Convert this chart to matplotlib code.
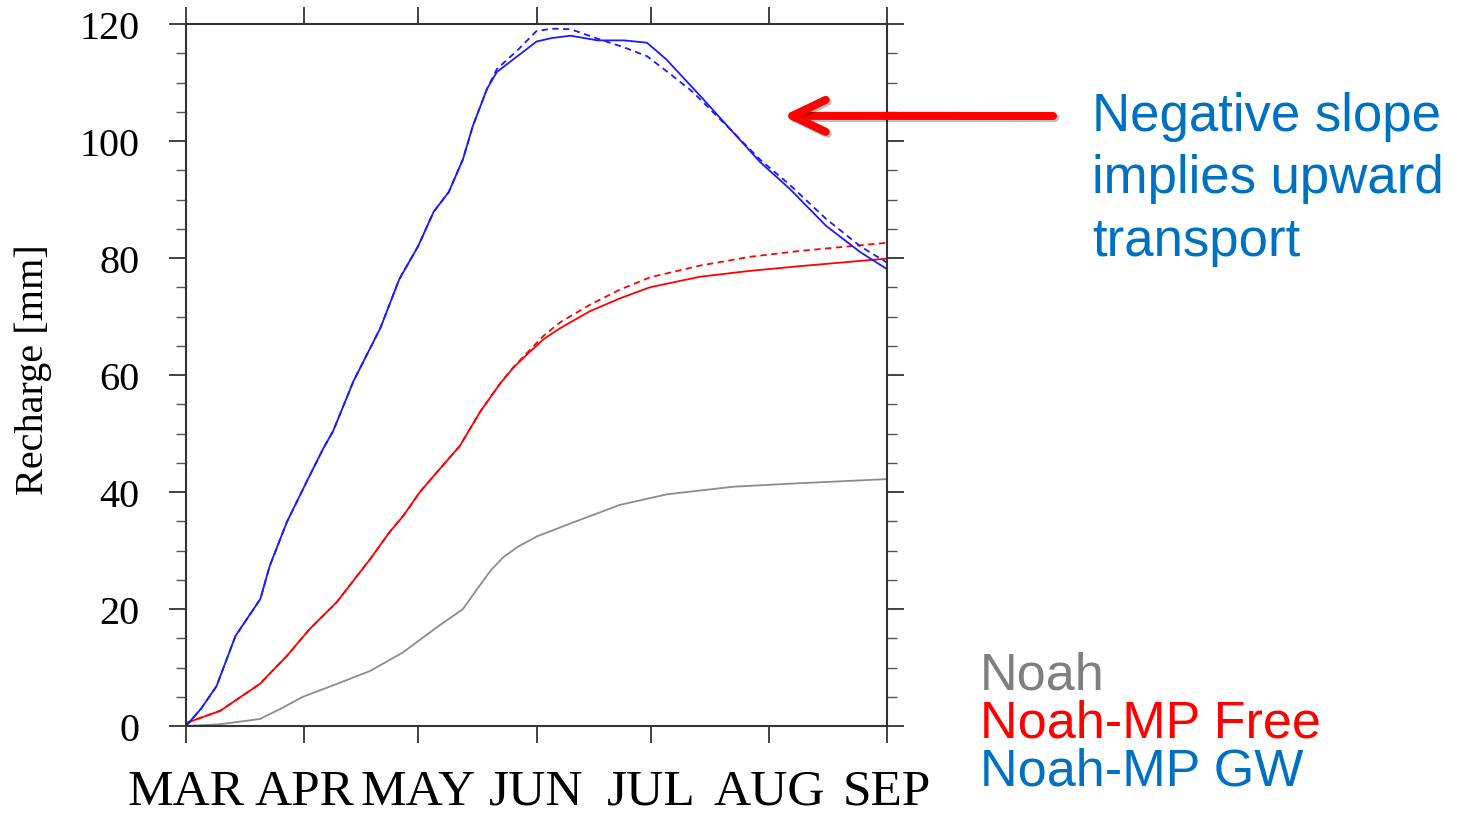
import numpy as np
import matplotlib
matplotlib.use("Agg")
import matplotlib.pyplot as plt
import matplotlib.patheffects as pe

plt.rcParams['font.family'] = ['Liberation Serif', 'DejaVu Serif']

# month ticks (days since 1 March)
month_days = [0, 31, 61, 92, 122, 153, 184]
month_labels = ["MAR", "APR", "MAY", "JUN", "JUL", "AUG", "SEP"]

# Noah-MP GW, solid
gw_days = [0, 4, 8, 13, 19.5, 22, 26.5, 32, 36, 38.6, 44, 51, 56, 61, 65, 69, 72.7, 75.3, 79,
           81.6, 87, 92, 96, 101, 108, 115, 121, 126, 135, 143.6, 150.7, 158.5, 168, 177, 184]
gw_vals = [0, 3, 6.8, 15.4, 21.7, 27.4, 34.9, 42.2, 47.4, 50.4, 59, 68, 76.4, 82.1, 87.9, 91.3, 96.9,
           102.6, 108.9, 111.8, 114.5, 117, 117.6, 118, 117.2, 117.2, 116.8, 114, 107.7, 101.5,
           96.4, 91.8, 85.5, 81, 78.1]

# Noah-MP GW, dashed
gw2_days = [0, 4, 8, 13, 19.5, 22, 26.5, 32, 36, 38.6, 44, 51, 56, 61, 65, 69, 72.7, 75.3, 79,
            81.6, 87, 92, 96, 101, 108, 115, 121, 127, 133, 143.6, 150.7, 158.5, 168, 177, 184]
gw2_vals = [0, 3, 6.8, 15.4, 21.7, 27.4, 34.9, 42.2, 47.4, 50.4, 59, 68, 76.4, 82.1, 87.9, 91.3, 96.9,
            102.6, 108.9, 112.3, 115.5, 118.8, 119.2, 119.1, 117.5, 116, 114.5, 111.5, 108.4,
            101.5, 96.8, 92.5, 86.7, 82, 79.2]

# Noah-MP Free, solid
free_days = [0, 9, 19.4, 26.5, 32.5, 39.6, 48.3, 53.5, 57, 61.4, 65.9, 71.9, 77.2, 82.4, 86,
             90.3, 94, 98.2, 106, 113.9, 121.8, 134.9, 148, 161, 184]
free_vals = [0.5, 2.6, 7.2, 12, 16.6, 21.2, 28.5, 33.2, 35.9, 40, 43.4, 47.9, 53.7, 58.5, 61.3,
             64.0, 66.2, 68.0, 70.9, 73.1, 75, 76.8, 77.8, 78.6, 79.9]

# Noah-MP Free, dashed
free2_days = [0, 9, 19.4, 26.5, 32.5, 39.6, 48.3, 53.5, 57, 61.4, 65.9, 71.9, 77.2, 82.4, 86,
              90.3, 94, 98.2, 106, 113.9, 121.8, 134.9, 148, 161, 184]
free2_vals = [0.5, 2.6, 7.2, 12, 16.6, 21.2, 28.5, 33.2, 35.9, 40, 43.4, 47.9, 53.7, 58.5, 61.4,
              64.3, 66.8, 69.0, 72.0, 74.6, 76.7, 78.7, 80.2, 81.2, 82.6]

# Noah
noah_days = [0, 9, 19.4, 24.7, 30.7, 39.6, 48.3, 57, 65.9, 72.7, 76.4, 80, 83.2, 87, 92.1, 100.8,
             113.9, 126.2, 143.6, 161, 184]
noah_vals = [0, 0.3, 1.2, 2.9, 5.0, 7.2, 9.4, 12.6, 16.9, 20, 23.4, 26.6, 28.8, 30.6, 32.4, 34.6,
             37.8, 39.6, 40.9, 41.5, 42.2]

fig = plt.figure(figsize=(14.62, 8.2), dpi=100)
ax = fig.add_axes([186/1462, 93/820, 701/1462, 702/820])

lw = 1.3
ax.plot(noah_days, noah_vals, color="#8c8c8c", lw=lw)
ax.plot(free_days, free_vals, color="#ff0000", lw=lw)
ax.plot(free2_days, free2_vals, color="#ff0000", lw=lw, dashes=(3.5, 2.5))
ax.plot(gw_days, gw_vals, color="#1a1aff", lw=lw)
ax.plot(gw2_days, gw2_vals, color="#1a1aff", lw=lw, dashes=(3.5, 2.5))

ax.set_xlim(0, 184)
ax.set_ylim(0, 120)
ax.set_xticks(month_days)
ax.set_xticklabels(month_labels, fontsize=37)
ax.set_yticks(np.arange(0, 121, 20))
ax.set_yticks(np.arange(0, 121, 5), minor=True)
ax.tick_params(axis='y', labelsize=29)

spine_col = "#333333"
for s in ax.spines.values():
    s.set_linewidth(1.5)
    s.set_color(spine_col)
ax.tick_params(which='major', direction='out', length=12.5, width=1.3, color=spine_col,
               top=True, right=True)
ax.tick_params(which='minor', direction='out', length=7, width=1.0, color="#555555",
               right=True)
ax.tick_params(axis='x', pad=18)
ax.tick_params(axis='y', which='major', pad=21)

fig.text(33/1462, 1 - 370/820, "Recharge [mm]", rotation=90, fontsize=29,
         ha='center', va='center')

# annotation arrow
ax.annotate("", xy=(156.7, 104.3), xycoords='data',
            xytext=(1053/1462, 1 - 117/820), textcoords='figure fraction',
            annotation_clip=False,
            arrowprops=dict(arrowstyle="->, head_length=2.4, head_width=1.15",
                            mutation_scale=10, lw=5.8, color="#ff0000",
                            shrinkA=0, shrinkB=0, capstyle='round', joinstyle='round',
                            path_effects=[pe.SimpleLineShadow(offset=(1.5, -1.5), alpha=0.25),
                                          pe.Normal()]),
            zorder=10)

note_lines = ["Negative slope", "implies upward", "transport"]
note_base = [131, 193, 256]
for txt, yb in zip(note_lines, note_base):
    fig.text(1092/1462, 1 - yb/820, txt, fontsize=38, color="#0070c0",
             family="Liberation Sans", va='baseline', ha='left')

legend_names = ["Noah", "Noah-MP Free", "Noah-MP GW"]
legend_cols = ["#7f7f7f", "#ff0000", "#0070c0"]
legend_base = [690, 738, 786]
for txt, c, yb in zip(legend_names, legend_cols, legend_base):
    fig.text(980/1462, 1 - yb/820, txt, fontsize=37.5, color=c,
             family="Liberation Sans", va='baseline', ha='left')

fig.savefig("out.png", dpi=100)
